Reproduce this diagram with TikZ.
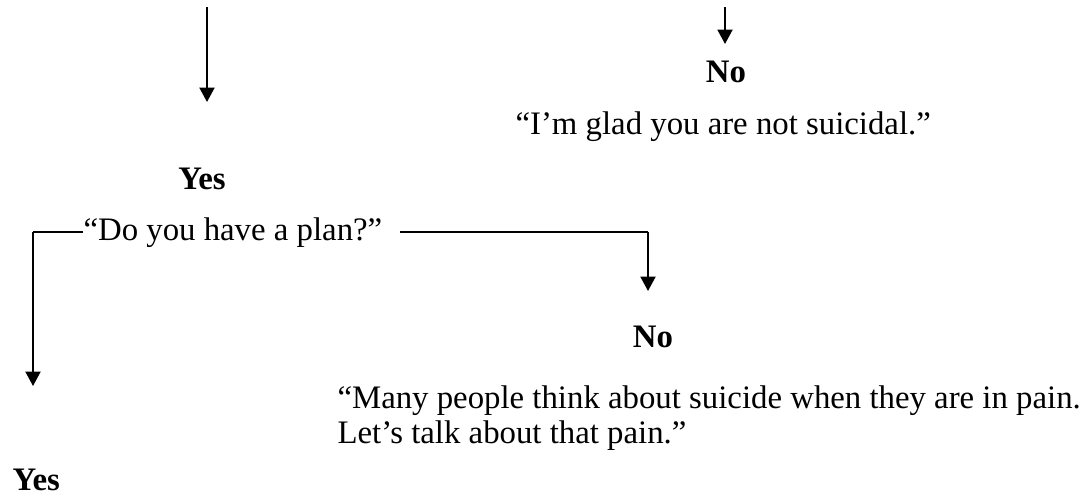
\documentclass[tikz,border=0pt]{standalone}
\usepackage{fontspec}
\setmainfont{Liberation Serif}
\usetikzlibrary{arrows.meta}
\tikzset{
	say/.style={inner sep=0pt, font=\fontsize{12.3}{13.1}\selectfont},
	ans/.style={inner sep=0pt, font=\fontsize{12.3}{13.1}\selectfont\bfseries},
	flow/.style={line width=0.8pt, -{Triangle[length=5.4pt, width=5.6pt]}},
	rule/.style={line width=1pt}
}

\begin{document}
\begin{tikzpicture}[x=0.375pt, y=-0.375pt]
	\useasboundingbox (0,0) rectangle (1082,495);
	% first question, both answers
	\coordinate (top1) at (207,7);
	\coordinate (tip1) at (207,102);
	\coordinate (top2) at (725,7);
	\coordinate (tip2) at (725,44);
	\node[ans, anchor=base] (no1) at (726,83) {No};
	\node[say, anchor=base west] (glad) at (515,135) {“I’m glad you are not suicidal.”};
	\node[ans, anchor=base] (yes1) at (202,190) {Yes};
	\node[say, anchor=base west] (plan) at (83,240) {“Do you have a plan?”};
	\draw[flow] (top1) -- (tip1);
	\draw[flow] (top2) -- (tip2);
	% plan question
	\coordinate (tip3) at (33,386);
	\coordinate (tip4) at (648,291);
	\node[ans, anchor=base] (no2) at (653,347) {No};
	\node[say, anchor=north west, align=left] (pain) at (337,385)
		{“Many people think about suicide when they are in pain.\\Let’s talk about that pain.”};
	\node[ans, anchor=base west] (yes2) at (12,490) {Yes};
	\draw[rule] (plan.west) -- (plan.west -| tip3);
	\draw[flow] (plan.west -| tip3) -- (tip3);
	\draw[rule] ([xshift=6.5pt]plan.east) -- (plan.east -| tip4);
	\draw[flow] (plan.east -| tip4) -- (tip4);
\end{tikzpicture}
\end{document}
